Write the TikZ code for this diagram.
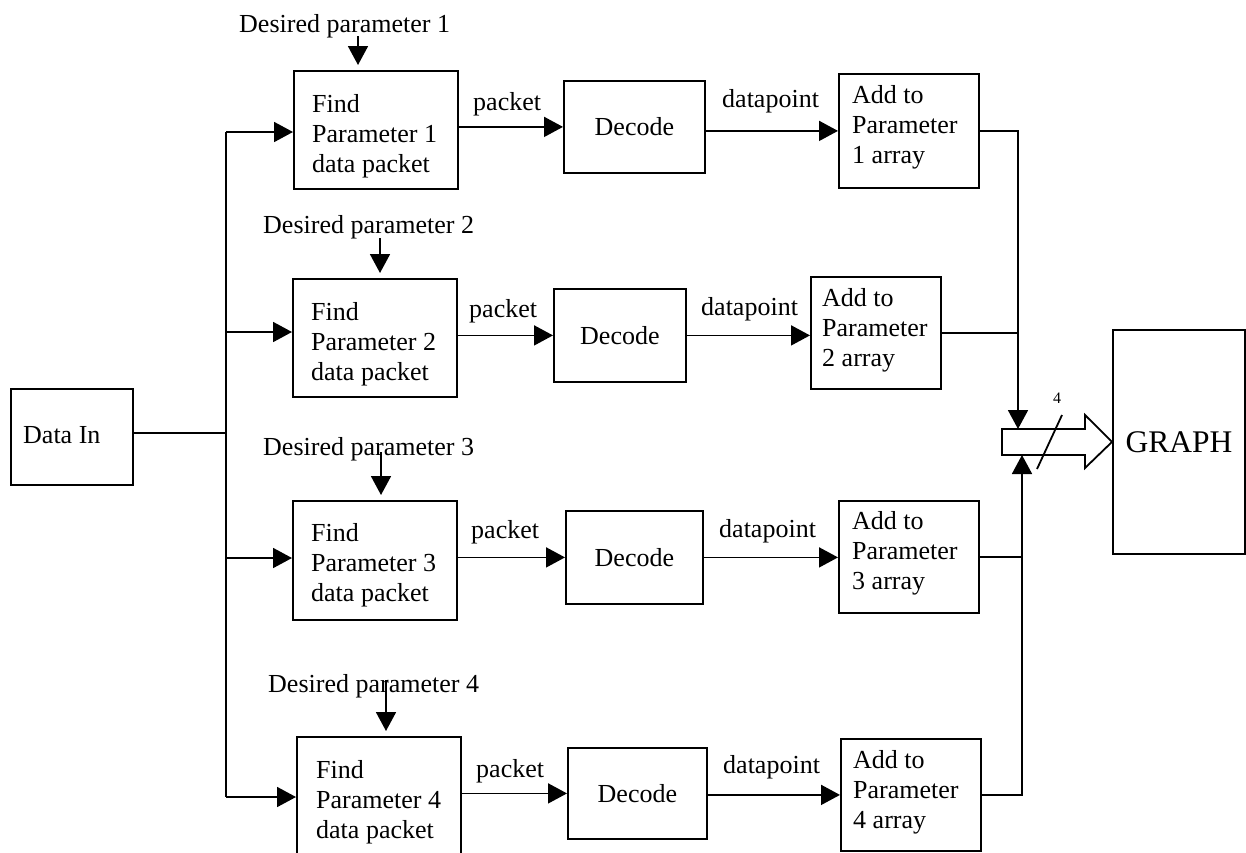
\documentclass[tikz,border=0pt]{standalone}
\usepackage{fontspec}
\setmainfont{Liberation Serif}
\usetikzlibrary{arrows.meta}
\newcommand\threelines[3]{\begin{tabular}[t]{@{}l@{}}#1\\#2\\#3\end{tabular}}
\tikzset{
  box/.style={draw, line width=1.8pt, anchor=north west, inner sep=0pt, font=\fontsize{26}{30}\selectfont},
  txt/.style={anchor=base west, inner sep=0pt, font=\fontsize{26}{30}\selectfont},
  conn/.style={line width=1.8pt},
  arr/.style={line width=1.8pt, -{Triangle[length=19pt,width=20pt]}},
  parr/.style={arr, shorten >=5pt},
}
\begin{document}
\begin{tikzpicture}[x=1pt,y=-1pt]
\useasboundingbox (0,0) rectangle (1246,852);
% boxes
\node[box, minimum width=122pt, minimum height=96pt] (din) at (10,388) {};
\node[box, minimum width=164pt, minimum height=118pt] (f1) at (293,70) {};
\node[box, minimum width=164pt, minimum height=118pt] (f2) at (292,278) {};
\node[box, minimum width=164pt, minimum height=119pt] (f3) at (292,500) {};
\node[box, minimum width=164pt, minimum height=118pt] (f4) at (296,736) {};
\node[box, minimum width=141pt, minimum height=92pt] (d1) at (563,80) {Decode};
\node[box, minimum width=132pt, minimum height=93pt] (d2) at (553,288) {Decode};
\node[box, minimum width=137pt, minimum height=93pt] (d3) at (565,510) {Decode};
\node[box, minimum width=139pt, minimum height=91pt] (d4) at (567,747) {Decode};
\node[box, minimum width=140pt, minimum height=114pt] (a1) at (838,73) {};
\node[box, minimum width=130pt, minimum height=112pt] (a2) at (810,276) {};
\node[box, minimum width=140pt, minimum height=112pt] (a3) at (838,500) {};
\node[box, minimum width=140pt, minimum height=112pt] (a4) at (840,738) {};
\node[box, minimum width=132pt, minimum height=224pt, font=\fontsize{31.5}{36}\selectfont] (graph) at (1112,329) {GRAPH};
% box texts
\node[txt] (tdin) at (23,443) {Data In};
\node[txt] (tf1) at (312,112) {\threelines{Find}{Parameter 1}{data packet}};
\node[txt] (tf2) at (311,320) {\threelines{Find}{Parameter 2}{data packet}};
\node[txt] (tf3) at (311,541) {\threelines{Find}{Parameter 3}{data packet}};
\node[txt] (tf4) at (316,778) {\threelines{Find}{Parameter 4}{data packet}};
\node[txt] (ta1) at (852,103) {\threelines{Add to}{Parameter}{1 array}};
\node[txt] (ta2) at (822,306) {\threelines{Add to}{Parameter}{2 array}};
\node[txt] (ta3) at (852,529) {\threelines{Add to}{Parameter}{3 array}};
\node[txt] (ta4) at (853,768) {\threelines{Add to}{Parameter}{4 array}};
% desired parameter labels
\node[txt] (dp1) at (239,32) {Desired parameter 1};
\node[txt] (dp2) at (263,233) {Desired parameter 2};
\node[txt] (dp3) at (263,455) {Desired parameter 3};
\node[txt] (dp4) at (268,692) {Desired parameter 4};
\coordinate (s1) at (358,36);
\coordinate (s2) at (380,238);
\coordinate (s3) at (381,452);
\coordinate (s4) at (386,680);
\draw[parr] (s1) -- (s1 |- f1.north);
\draw[parr] (s2) -- (s2 |- f2.north);
\draw[parr] (s3) -- (s3 |- f3.north);
\draw[parr] (s4) -- (s4 |- f4.north);
% packet / datapoint labels
\node[txt] (pk1) at (473,110) {packet};
\node[txt] (pk2) at (469,317) {packet};
\node[txt] (pk3) at (471,538) {packet};
\node[txt] (pk4) at (476,777) {packet};
\node[txt] (dt1) at (722,107) {datapoint};
\node[txt] (dt2) at (701,315) {datapoint};
\node[txt] (dt3) at (719,537) {datapoint};
\node[txt] (dt4) at (723,773) {datapoint};
% input bus
\coordinate (j0) at (226,433);
\coordinate (j1) at (226,132);
\coordinate (j2) at (226,332);
\coordinate (j3) at (226,558);
\coordinate (j4) at (226,797);
\draw[conn] (j0 -| din.east) -- (j0);
\draw[conn] (j1) -- (j4);
\draw[arr] (j1) -- (j1 -| f1.west);
\draw[arr] (j2) -- (j2 -| f2.west);
\draw[arr] (j3) -- (j3 -| f3.west);
\draw[arr] (j4) -- (j4 -| f4.west);
% packet arrows
\draw[arr] (d1.west -| f1.east) -- (d1.west);
\draw[arr] (d2.west -| f2.east) -- (d2.west);
\draw[arr] (d3.west -| f3.east) -- (d3.west);
\draw[arr] (d4.west -| f4.east) -- (d4.west);
% datapoint arrows
\draw[arr] (a1.west -| d1.east) -- (a1.west);
\draw[arr] (d2.east) -- (d2.east -| a2.west);
\draw[arr] (d3.east) -- (d3.east -| a3.west);
\draw[arr] (a4.west -| d4.east) -- (a4.west);
% outputs
\coordinate (bt) at (1018,429);
\coordinate (bb) at (1022,455);
\draw[arr] (a1.east) -- (a1.east -| bt) -- (bt);
\draw[conn] (a2.east) -- (a2.east -| bt);
\draw[arr] (a4.east) -- (a4.east -| bb) -- (bb);
\draw[conn] (a3.east) -- (a3.east -| bb);
% fat bus arrow
\draw[line width=1.8pt, fill=white] (1002,429) -- (1085,429) -- (1085,415) -- (graph.west) -- (1085,468) -- (1085,455) -- (1002,455) -- cycle;
\coordinate (sl1) at (1037,469);
\coordinate (sl2) at (1062,415);
\draw[conn] (sl1) -- (sl2);
\node[inner sep=0pt, font=\fontsize{16}{18}\selectfont] (w4) at (1057,398) {4};
\end{tikzpicture}
\end{document}
